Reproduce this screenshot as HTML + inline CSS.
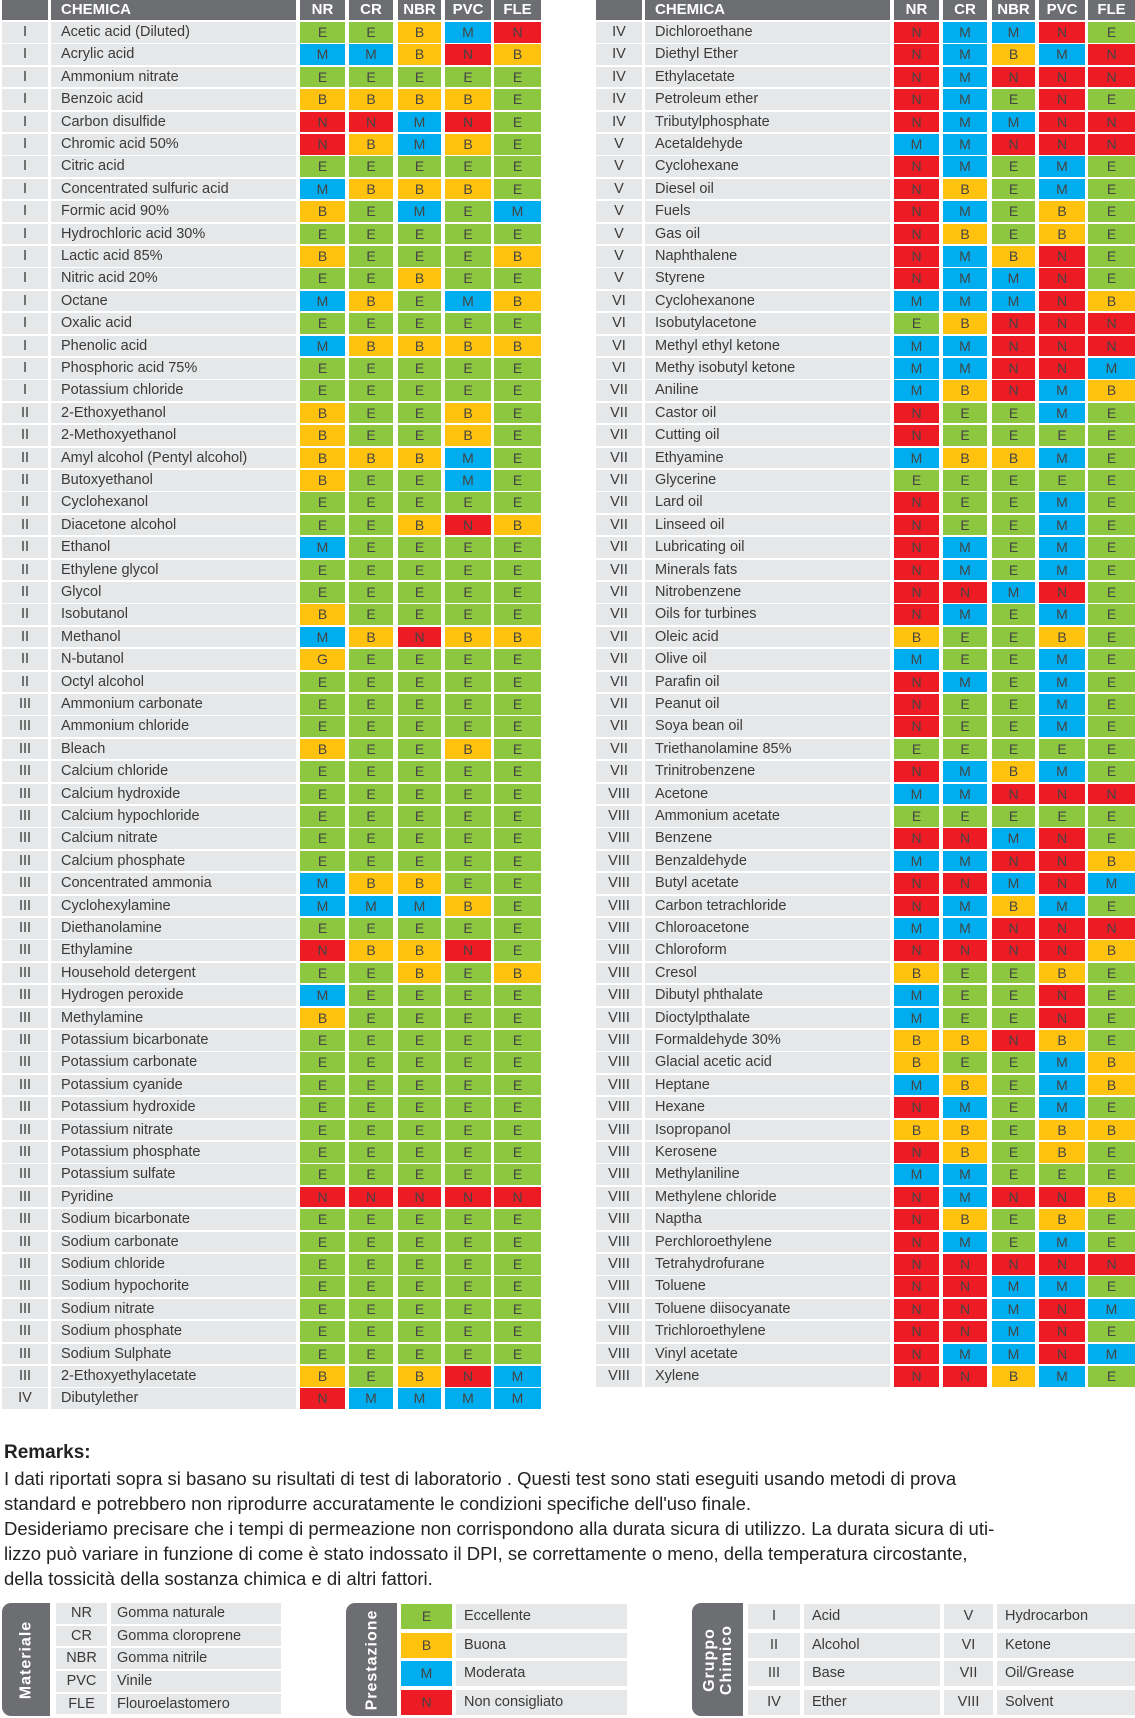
<!DOCTYPE html>
<html><head><meta charset="utf-8"><style>
body{margin:0;width:1135px;height:1718px;background:#fff;position:relative;overflow:hidden;font-family:"Liberation Sans",sans-serif;color:#3a3a3a}
.a{position:absolute;box-sizing:border-box;white-space:nowrap}
.hd{background:#6d6e71;color:#fff;font-weight:bold;font-size:15px;line-height:20px;text-align:center}
.g{background:#e6e7e8;font-size:14.5px;text-align:center;line-height:20px}
.n{background:#e6e7e8;font-size:14.5px;line-height:20px;padding-left:10px}
.c{font-size:14px;line-height:20px;text-align:center;color:#444}
.E{background:#8dc63f}.B{background:#ffc20e}.M{background:#00aeef}.N{background:#ed1c24}.G{background:#ffc20e}
.rm{font-size:18.5px;line-height:24.6px;left:4px;color:#222}
.tab{background:#6d6e71;border-radius:9px 0 0 9px;color:#fff;font-weight:bold;font-size:16px}
.tab span{position:absolute;left:50%;top:50%;transform:translate(-50%,-50%) rotate(-90deg);text-align:center;line-height:17px;letter-spacing:1px}
.lg{background:#e6e7e8;font-size:14.5px;line-height:20px}
</style></head><body>
<div id="root"></div>
<div class="a" style="left:4px;top:1442px;font-weight:bold;font-size:19px;color:#222">Remarks:</div>
<div class="a rm" style="top:1467px">I dati riportati sopra si basano su risultati di test di laboratorio . Questi test sono stati eseguiti usando metodi di prova</div>
<div class="a rm" style="top:1492px">standard e potrebbero non riprodurre accuratamente le condizioni specifiche dell'uso finale.</div>
<div class="a rm" style="top:1517px">Desideriamo precisare che i tempi di permeazione non corrispondono alla durata sicura di utilizzo. La durata sicura di uti-</div>
<div class="a rm" style="top:1542px">lizzo può variare in funzione di come è stato indossato il DPI, se correttamente o meno, della temperatura circostante,</div>
<div class="a rm" style="top:1567px">della tossicità della sostanza chimica e di altri fattori.</div>
<div id="legend"></div>
<script>
const leftGroups=["I","I","I","I","I","I","I","I","I","I","I","I","I","I","I","I","I","II","II","II","II","II","II","II","II","II","II","II","II","II","III","III","III","III","III","III","III","III","III","III","III","III","III","III","III","III","III","III","III","III","III","III","III","III","III","III","III","III","III","III","III","IV","IV"];
const leftNames=["Acetic acid (Diluted)","Acrylic acid","Ammonium nitrate","Benzoic acid","Carbon disulfide","Chromic acid 50%","Citric acid","Concentrated sulfuric acid","Formic acid 90%","Hydrochloric acid 30%","Lactic acid 85%","Nitric acid 20%","Octane","Oxalic acid","Phenolic acid","Phosphoric acid 75%","Potassium chloride","2-Ethoxyethanol","2-Methoxyethanol","Amyl alcohol (Pentyl alcohol)","Butoxyethanol","Cyclohexanol","Diacetone alcohol","Ethanol","Ethylene glycol","Glycol","Isobutanol","Methanol","N-butanol","Octyl alcohol","Ammonium carbonate","Ammonium chloride","Bleach","Calcium chloride","Calcium hydroxide","Calcium hypochloride","Calcium nitrate","Calcium phosphate","Concentrated ammonia","Cyclohexylamine","Diethanolamine","Ethylamine","Household detergent","Hydrogen peroxide","Methylamine","Potassium bicarbonate","Potassium carbonate","Potassium cyanide","Potassium hydroxide","Potassium nitrate","Potassium phosphate","Potassium sulfate","Pyridine","Sodium bicarbonate","Sodium carbonate","Sodium chloride","Sodium hypochorite","Sodium nitrate","Sodium phosphate","Sodium Sulphate","2-Ethoxyethylacetate","Dibutylether"];
const leftRatings=["EEBMN","MMBNB","EEEEE","BBBBE","NNMNE","NBMBE","EEEEE","MBBBE","BEMEM","EEEEE","BEEEB","EEBEE","MBEMB","EEEEE","MBBBB","EEEEE","EEEEE","BEEBE","BEEBE","BBBME","BEEME","EEEEE","EEBNB","MEEEE","EEEEE","EEEEE","BEEEE","MBNBB","GEEEE","EEEEE","EEEEE","EEEEE","BEEBE","EEEEE","EEEEE","EEEEE","EEEEE","EEEEE","MBBEE","MMMBE","EEEEE","NBBNE","EEBEB","MEEEE","BEEEE","EEEEE","EEEEE","EEEEE","EEEEE","EEEEE","EEEEE","EEEEE","NNNNN","EEEEE","EEEEE","EEEEE","EEEEE","EEEEE","EEEEE","EEEEE","BEBNM","NMMMM"];
const rightGroups=["IV","IV","IV","IV","IV","V","V","V","V","V","V","V","VI","VI","VI","VI","VII","VII","VII","VII","VII","VII","VII","VII","VII","VII","VII","VII","VII","VII","VII","VII","VII","VII","VIII","VIII","VIII","VIII","VIII","VIII","VIII","VIII","VIII","VIII","VIII","VIII","VIII","VIII","VIII","VIII","VIII","VIII","VIII","VIII","VIII","VIII","VIII","VIII","VIII","VIII","VIII","VIII"];
const rightNames=["Dichloroethane","Diethyl Ether","Ethylacetate","Petroleum ether","Tributylphosphate","Acetaldehyde","Cyclohexane","Diesel oil","Fuels","Gas oil","Naphthalene","Styrene","Cyclohexanone","Isobutylacetone","Methyl ethyl ketone","Methy isobutyl ketone","Aniline","Castor oil","Cutting oil","Ethyamine","Glycerine","Lard oil","Linseed oil","Lubricating oil","Minerals fats","Nitrobenzene","Oils for turbines","Oleic acid","Olive oil","Parafin oil","Peanut oil","Soya bean oil","Triethanolamine 85%","Trinitrobenzene","Acetone","Ammonium acetate","Benzene","Benzaldehyde","Butyl acetate","Carbon tetrachloride","Chloroacetone","Chloroform","Cresol","Dibutyl phthalate","Dioctylpthalate","Formaldehyde 30%","Glacial acetic acid","Heptane","Hexane","Isopropanol","Kerosene","Methylaniline","Methylene chloride","Naptha","Perchloroethylene","Tetrahydrofurane","Toluene","Toluene diisocyanate","Trichloroethylene","Vinyl acetate","Xylene"];
const rightRatings=["NMMNE","NMBMN","NMNNN","NMENE","NMMNN","MMNNN","NMEME","NBEME","NMEBE","NBEBE","NMBNE","NMMNE","MMMNB","EBNNN","MMNNN","MMNNM","MBNMB","NEEME","NEEEE","MBBME","EEEEE","NEEME","NEEME","NMEME","NMEME","NNMNE","NMEME","BEEBE","MEEME","NMEME","NEEME","NEEME","EEEEE","NMBME","MMNNN","EEEEE","NNMNE","MMNNB","NNMNM","NMBME","MMNNN","NNNNB","BEEBE","MEENE","MEENE","BBNBE","BEEMB","MBEMB","NMEME","BBEBB","NBEBE","MMEEE","NMNNB","NBEBE","NMEME","NNNNN","NNMME","NNMNM","NNMNE","NMMNM","NNBME"];
const materials=["NR","CR","NBR","PVC","FLE"];
const root=document.getElementById('root');
const TOP=22,PITCH=22.4,RH=20.5;
function rowY(i){return TOP+i*PITCH;}
function box(cls,x,y,w,h,txt){const d=document.createElement('div');d.className='a '+cls;d.style.left=x+'px';d.style.top=y+'px';d.style.width=w+'px';d.style.height=h+'px';d.textContent=txt;root.appendChild(d);return d;}
function table(x0,groups,names,ratings,side){
  const gx=x0,gw=46,nx=x0+49,nw=245;
  const colX=[x0+298,x0+347,x0+396,x0+443,x0+492],cw=[45,44,43,46,47];
  let h=box('hd',gx,0,gw,20,'');
  
  
  h=box('hd',nx,0,nw,20,'CHEMICA');h.style.textAlign='left';h.style.paddingLeft='10px';
  
  
  materials.forEach((m,j)=>{const e=box('hd',colX[j],0,cw[j],20,m);
    
    });
  names.forEach((nm,i)=>{const y=rowY(i);
    let g=box('g',gx,y,gw,RH,groups[i]);
    
    
    let n=box('n',nx,y,nw,RH,nm);
    
    
    const r=ratings[i];
    for(let j=0;j<5;j++){const c=box('c '+r[j],colX[j],y,cw[j],RH,r[j]);
      
      }
  });
}
table(2,leftGroups,leftNames,leftRatings,'left');
table(596,rightGroups,rightNames,rightRatings,'right');
// legend
function lbox(cls,x,y,w,h,txt){const d=box(cls,x,y,w,h,txt);return d;}
let t=lbox('tab',2,1603,48,113,'');t.innerHTML='<span>Materiale</span>';


const matDesc=["Gomma naturale","Gomma cloroprene","Gomma nitrile","Vinile","Flouroelastomero"];
materials.forEach((m,i)=>{const y=1603+i*22.7;
  let a=lbox('lg',56,y,51,20.5,m);a.style.textAlign='center';
  
  
  let b=lbox('lg',111,y,170,20.5,matDesc[i]);b.style.paddingLeft='6px';
  
  });
t=lbox('tab',346,1603,51,113,'');t.innerHTML='<span>Prestazione</span>';


const perfCodes=["E","B","M","N"],perfDesc=["Eccellente","Buona","Moderata","Non consigliato"];
perfCodes.forEach((p,i)=>{const y=1604+i*28.5;
  let a=lbox('c '+p,401,y,51,25,p);a.style.lineHeight='25px';
  
  
  let b=lbox('lg',456,y,171,25,perfDesc[i]);b.style.paddingLeft='8px';b.style.lineHeight='25px';
  
  });
t=lbox('tab',692,1603,51,113,'');t.innerHTML='<span>Gruppo<br>Chimico</span>';


const grpCodes=["I","II","III","IV","V","VI","VII","VIII"],grpDesc=["Acid","Alcohol","Base","Ether","Hydrocarbon","Ketone","Oil/Grease","Solvent"];
grpCodes.forEach((g,i)=>{const col=Math.floor(i/4),y=1604+(i%4)*28.5;
  const x1=col?944:748,x2=col?997:804,w2=col?138:136;
  let a=lbox('lg',x1,y,col?49:52,25,g);a.style.textAlign='center';a.style.lineHeight='25px';
  
  
  let b=lbox('lg',x2,y,w2,25,grpDesc[i]);b.style.paddingLeft='8px';b.style.lineHeight='25px';
  
  });
</script>
</body></html>
